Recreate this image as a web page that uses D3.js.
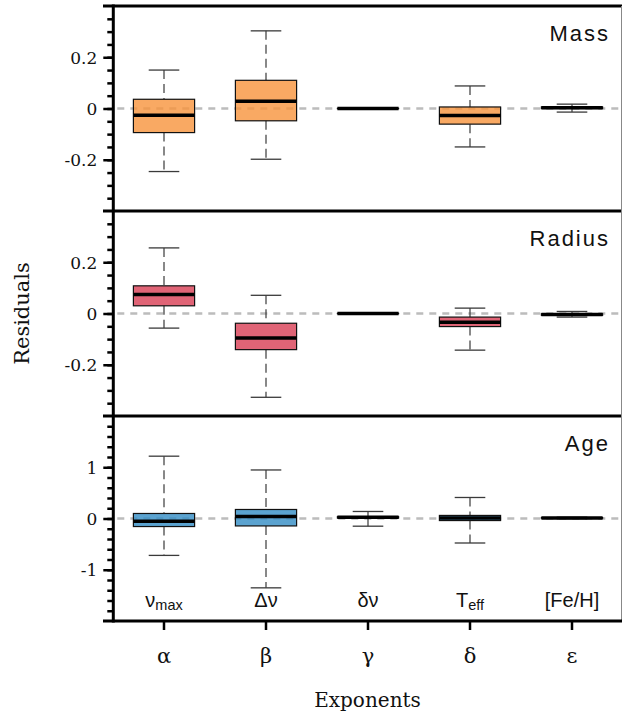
<!DOCTYPE html>
<html>
<head>
<meta charset="utf-8">
<script src="https://cdn.jsdelivr.net/npm/d3@7"></script>
<style>
  html, body { margin: 0; padding: 0; background: #fff; }
  svg { display: block; }
</style>
</head>
<body>
<svg id="chart" width="622" height="714"></svg>
<script>
// ---------------- data ----------------
const exponents = ["α", "β", "γ", "δ", "ε"];
const observables = [["ν", "max"], ["Δν", ""], ["δν", ""], ["T", "eff"], ["[Fe/H]", ""]];
const panelNames = ["Mass", "Radius", "Age"];

// each entry: [lower whisker, Q1, median, Q3, upper whisker]
const massStats = [
  [-0.246, -0.094, -0.026, 0.036, 0.150],
  [-0.198, -0.048, 0.028, 0.110, 0.303],
  [-0.001, -0.0005, 0.000, 0.0005, 0.001],
  [-0.150, -0.061, -0.027, 0.006, 0.088],
  [-0.014, 0.000, 0.003, 0.006, 0.017]
];
const radiusStats = [
  [-0.057, 0.030, 0.074, 0.108, 0.256],
  [-0.327, -0.141, -0.096, -0.038, 0.071],
  [-0.001, -0.0005, 0.000, 0.0005, 0.001],
  [-0.143, -0.051, -0.034, -0.014, 0.021],
  [-0.014, -0.007, -0.004, -0.001, 0.008]
];
const ageStats = [
  [-0.720, -0.157, -0.053, 0.098, 1.216],
  [-1.353, -0.145, 0.039, 0.176, 0.947],
  [-0.150, 0.010, 0.025, 0.035, 0.137],
  [-0.478, -0.040, 0.012, 0.060, 0.410],
  [-0.005, 0.005, 0.012, 0.018, 0.025]
];
const smallTicks = [-0.2, 0, 0.2];
const smallTickLabels = ["-0.2", "0", "0.2"];
const ageTicks = [-1, 0, 1];
const ageTickLabels = ["-1", "0", "1"];

// ---------------- layout ----------------
const svg = d3.select("#chart");
const left = 113.3, right = 622, axisLeftExt = 103;
const panelTop = [6, 211, 416], panelH = 205;
const bottom = panelTop[2] + panelH;

const panels = [
  {name: panelNames[0], stats: massStats, domain: [-0.4, 0.4], ticks: smallTicks, labels: smallTickLabels, minorStep: 0.05, minorN: 7, fill: "#f8943c"},
  {name: panelNames[1], stats: radiusStats, domain: [-0.4, 0.4], ticks: smallTicks, labels: smallTickLabels, minorStep: 0.05, minorN: 7, fill: "#d83d54"},
  {name: panelNames[2], stats: ageStats, domain: [-2, 2], ticks: ageTicks, labels: ageTickLabels, minorStep: 0.2, minorN: 9, fill: "#328cc4"}
];

const x = d3.scaleBand().domain(exponents).range([113, 623]).padding(0);
const bw = x.bandwidth();
const boxW = bw * 0.6, capW = bw * 0.3;

panels.forEach((p, i) => {
  const top = panelTop[i];
  const y = d3.scaleLinear().domain(p.domain).range([top + panelH, top]);
  const g = svg.append("g");

  // zero reference line
  g.append("line")
    .attr("x1", left + 4).attr("x2", right)
    .attr("y1", y(0)).attr("y2", y(0))
    .attr("stroke", "#bcbcbc").attr("stroke-width", 2.3)
    .attr("stroke-dasharray", "7,6");

  // boxes
  const boxes = g.selectAll("g.box").data(p.stats).join("g").attr("class", "box")
    .attr("transform", (d, j) => `translate(${x(exponents[j]) + bw / 2},0)`);

  boxes.append("line").attr("x1", 0).attr("x2", 0)
    .attr("y1", d => y(d[4])).attr("y2", d => y(d[3]))
    .attr("stroke", "#3a3a3a").attr("stroke-width", 1.2).attr("stroke-dasharray", "9,5");
  boxes.append("line").attr("x1", 0).attr("x2", 0)
    .attr("y1", d => y(d[1])).attr("y2", d => y(d[0]))
    .attr("stroke", "#3a3a3a").attr("stroke-width", 1.2).attr("stroke-dasharray", "9,5");
  boxes.append("line").attr("x1", -capW / 2).attr("x2", capW / 2)
    .attr("y1", d => y(d[4])).attr("y2", d => y(d[4]))
    .attr("stroke", "#3a3a3a").attr("stroke-width", 1.3);
  boxes.append("line").attr("x1", -capW / 2).attr("x2", capW / 2)
    .attr("y1", d => y(d[0])).attr("y2", d => y(d[0]))
    .attr("stroke", "#3a3a3a").attr("stroke-width", 1.3);
  boxes.append("rect")
    .attr("x", -boxW / 2).attr("width", boxW)
    .attr("y", d => y(d[3])).attr("height", d => Math.max(0, y(d[1]) - y(d[3])))
    .attr("fill", p.fill).attr("fill-opacity", 0.8)
    .attr("stroke", "#111").attr("stroke-width", 1.2);
  boxes.append("line").attr("x1", -boxW / 2).attr("x2", boxW / 2)
    .attr("y1", d => y(d[2])).attr("y2", d => y(d[2]))
    .attr("stroke", "#000").attr("stroke-width", 3.5);

  // minor ticks
  const minorVals = d3.range(-p.minorN, p.minorN + 1).map(k => k * p.minorStep);
  const minor = g.append("g").attr("transform", `translate(${left},0)`)
    .call(d3.axisLeft(y).tickValues(minorVals).tickSize(6).tickFormat(""));
  minor.select(".domain").remove();
  minor.selectAll(".tick line").attr("stroke", "#000").attr("stroke-width", 2.5);

  // major ticks
  const major = g.append("g").attr("transform", `translate(${left},0)`)
    .call(d3.axisLeft(y).tickValues(p.ticks).tickSize(10).tickPadding(6)
      .tickFormat((d, k) => p.labels[k]));
  major.select(".domain").remove();
  major.selectAll(".tick line").attr("stroke", "#000").attr("stroke-width", 2.5);
  major.selectAll(".tick text")
    .attr("font-family", "'DejaVu Serif', serif").attr("font-size", 17)
    .attr("fill", "#111").attr("dy", "0.36em");

  // top border
  g.append("line").attr("x1", axisLeftExt).attr("x2", right)
    .attr("y1", top).attr("y2", top)
    .attr("stroke", "#000").attr("stroke-width", 2.8);

  // panel name
  g.append("text")
    .attr("x", 610).attr("y", top + 35)
    .attr("text-anchor", "end")
    .attr("font-family", "'Liberation Sans', Arial, sans-serif")
    .attr("font-size", 22).attr("letter-spacing", "2px")
    .attr("fill", "#111")
    .text(p.name);
});

// observable labels in bottom panel
const obs = svg.append("g").selectAll("text").data(observables).join("text")
  .attr("x", (d, j) => x(exponents[j]) + bw / 2)
  .attr("y", 607)
  .attr("text-anchor", "middle")
  .attr("font-family", "'Liberation Sans', Arial, sans-serif")
  .attr("font-size", 20).attr("fill", "#111");
obs.append("tspan").text(d => d[0]);
obs.filter(d => d[1] !== "").append("tspan")
  .attr("font-size", 14.5).attr("dy", 3).text(d => d[1]);

// left axis line, right edge
svg.append("line").attr("x1", left).attr("x2", left)
  .attr("y1", panelTop[0] - 1.4).attr("y2", bottom + 1.4)
  .attr("stroke", "#000").attr("stroke-width", 3);
svg.append("line").attr("x1", 621.5).attr("x2", 621.5)
  .attr("y1", panelTop[0]).attr("y2", bottom)
  .attr("stroke", "#888").attr("stroke-width", 1);

// bottom axis
const xAxis = svg.append("g").attr("transform", `translate(0,${bottom})`)
  .call(d3.axisBottom(x).tickSize(9).tickPadding(18));
xAxis.select(".domain").remove();
xAxis.selectAll(".tick line").attr("stroke", "#000").attr("stroke-width", 2.5);
xAxis.selectAll(".tick text")
  .attr("font-family", "'DejaVu Serif', serif").attr("font-size", 21).attr("fill", "#111");
svg.append("line").attr("x1", axisLeftExt).attr("x2", right)
  .attr("y1", bottom).attr("y2", bottom)
  .attr("stroke", "#000").attr("stroke-width", 2.8);

// axis titles
svg.append("text")
  .attr("transform", `translate(28.5,${(panelTop[0] + bottom) / 2}) rotate(-90)`)
  .attr("text-anchor", "middle")
  .attr("font-family", "'DejaVu Serif', serif").attr("font-size", 21).attr("fill", "#111")
  .text("Residuals");
svg.append("text")
  .attr("x", (113 + 622) / 2).attr("y", 707)
  .attr("text-anchor", "middle")
  .attr("font-family", "'DejaVu Serif', serif").attr("font-size", 20).attr("fill", "#111")
  .text("Exponents");
</script>
</body>
</html>
